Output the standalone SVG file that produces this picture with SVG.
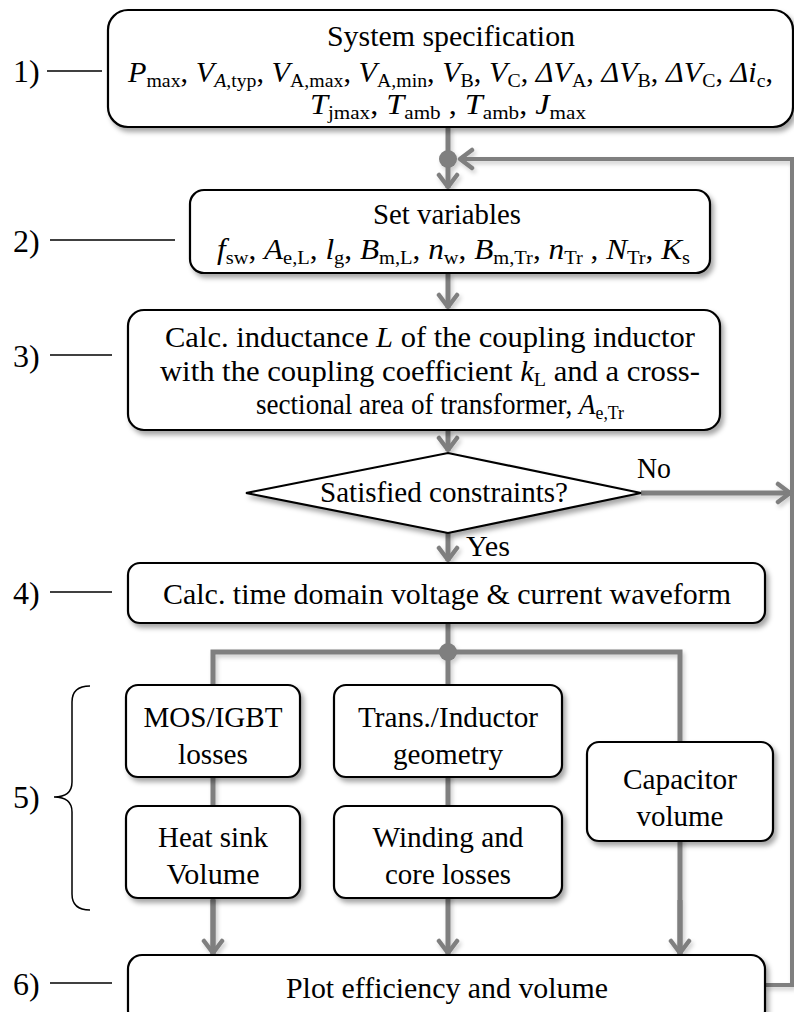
<svg xmlns="http://www.w3.org/2000/svg" width="794" height="1012" viewBox="0 0 794 1012" font-family="'Liberation Serif', 'DejaVu Serif', serif">
<style>
.t{font-family:"Liberation Serif","DejaVu Serif",serif;font-size:29px;fill:#000}
.m{text-anchor:middle}
.i{font-style:italic}
.s{font-size:19px;font-style:normal}
.box{fill:#fff;stroke:#000;stroke-width:2.2;filter:url(#sh)}
.c{stroke:#7f7f7f;stroke-width:5;fill:none}
.lb{stroke:#000;stroke-width:1.5;fill:none}
.lt{font-family:"Liberation Serif","DejaVu Serif",serif;font-size:32px;fill:#000}
</style>
<defs>
<filter id="sh" x="-10%" y="-20%" width="130%" height="150%">
<feDropShadow dx="3" dy="4" stdDeviation="2.5" flood-color="#000" flood-opacity="0.35"/>
</filter>
<filter id="sh2" filterUnits="userSpaceOnUse" x="0" y="0" width="794" height="1012">
<feDropShadow dx="2" dy="3" stdDeviation="2" flood-color="#000" flood-opacity="0.2"/>
</filter>
<marker id="ah" markerUnits="userSpaceOnUse" markerWidth="18" markerHeight="24" viewBox="0 0 18 24" refX="16" refY="12" orient="auto">
<path d="M3,3 L15,12 L3,21" fill="none" stroke="#7f7f7f" stroke-width="4.5" stroke-linecap="round" stroke-linejoin="round"/>
</marker>
</defs>
<rect width="794" height="1012" fill="#fff"/>

<g id="connectors" filter="url(#sh2)">
<path class="c" d="M448,127 L448,188" marker-end="url(#ah)"/>
<path class="c" d="M765,985 L792,985 L792,159 L459,159" marker-end="url(#ah)" style="stroke-width:4"/>
<path class="c" d="M448,273 L448,308" marker-end="url(#ah)"/>
<path class="c" d="M448,430 L448,451" marker-end="url(#ah)"/>
<path class="c" d="M641,493 L791,493" marker-end="url(#ah)"/>
<path class="c" d="M448,533 L448,561" marker-end="url(#ah)"/>
<path class="c" d="M448,623 L448,652"/>
<path class="c" d="M213,954 L213,652 L680,652 L680,954"/>
<path class="c" d="M213,900 L213,954" marker-end="url(#ah)"/>
<path class="c" d="M448,652 L448,954" marker-end="url(#ah)"/>
<path class="c" d="M680,900 L680,954" marker-end="url(#ah)"/>
<circle cx="448" cy="159" r="9" fill="#7f7f7f"/>
<circle cx="448" cy="652" r="9" fill="#7f7f7f"/>
</g>

<g id="labels">
<text class="lt" x="13" y="82">1)</text>
<line class="lb" x1="47" y1="71" x2="102" y2="71"/>
<text class="lt" x="13" y="252">2)</text>
<line class="lb" x1="50" y1="240" x2="175" y2="240"/>
<text class="lt" x="13" y="367">3)</text>
<line class="lb" x1="50" y1="355" x2="112" y2="355"/>
<text class="lt" x="13" y="604">4)</text>
<line class="lb" x1="50" y1="592" x2="112" y2="592"/>
<text class="lt" x="13" y="808">5)</text>
<path class="lb" d="M90,686 Q72,686 72,702 L72,782 Q72,797 54,797 Q72,797 72,812 L72,894 Q72,910 90,910"/>
<text class="lt" x="13" y="995">6)</text>
<line class="lb" x1="50" y1="983" x2="112" y2="983"/>
</g>

<g id="n1">
<rect class="box" x="108" y="10" width="685" height="117" rx="20"/>
<text class="t" x="327" y="46" textLength="248" lengthAdjust="spacingAndGlyphs">System specification</text>
<text class="t" x="128" y="82" textLength="645" lengthAdjust="spacingAndGlyphs"><tspan class="i">P</tspan><tspan class="s" dy="5">max</tspan><tspan dy="-5">, </tspan><tspan class="i">V</tspan><tspan class="s" dy="5"><tspan class="i">A</tspan>,typ</tspan><tspan dy="-5">, </tspan><tspan class="i">V</tspan><tspan class="s" dy="5">A,max</tspan><tspan dy="-5">, </tspan><tspan class="i">V</tspan><tspan class="s" dy="5">A,min</tspan><tspan dy="-5">, </tspan><tspan class="i">V</tspan><tspan class="s" dy="5">B</tspan><tspan dy="-5">, </tspan><tspan class="i">V</tspan><tspan class="s" dy="5">C</tspan><tspan dy="-5">, </tspan><tspan class="i">ΔV</tspan><tspan class="s" dy="5">A</tspan><tspan dy="-5">, </tspan><tspan class="i">ΔV</tspan><tspan class="s" dy="5">B</tspan><tspan dy="-5">, </tspan><tspan class="i">ΔV</tspan><tspan class="s" dy="5">C</tspan><tspan dy="-5">,  </tspan><tspan class="i">Δi</tspan><tspan class="s" dy="5">c</tspan><tspan dy="-5">,</tspan></text>
<text class="t" x="310" y="114" textLength="276" lengthAdjust="spacingAndGlyphs"><tspan class="i">T</tspan><tspan class="s" dy="5">jmax</tspan><tspan dy="-5">, </tspan><tspan class="i">T</tspan><tspan class="s" dy="5">amb</tspan><tspan dy="-5"> , </tspan><tspan class="i">T</tspan><tspan class="s" dy="5">amb</tspan><tspan dy="-5">, </tspan><tspan class="i">J</tspan><tspan class="s" dy="5">max</tspan></text>
</g>

<g id="n2">
<rect class="box" x="190" y="190" width="520" height="83" rx="14"/>
<text class="t" x="373" y="224" textLength="148" lengthAdjust="spacingAndGlyphs">Set variables</text>
<text class="t" x="217" y="259" textLength="473" lengthAdjust="spacingAndGlyphs"><tspan class="i">f</tspan><tspan class="s" dy="5">sw</tspan><tspan dy="-5">, </tspan><tspan class="i">A</tspan><tspan class="s" dy="5">e,L</tspan><tspan dy="-5">, </tspan><tspan class="i">l</tspan><tspan class="s" dy="5">g</tspan><tspan dy="-5">, </tspan><tspan class="i">B</tspan><tspan class="s" dy="5">m,L</tspan><tspan dy="-5">, </tspan><tspan class="i">n</tspan><tspan class="s" dy="5">w</tspan><tspan dy="-5">, </tspan><tspan class="i">B</tspan><tspan class="s" dy="5">m,Tr</tspan><tspan dy="-5">, </tspan><tspan class="i">n</tspan><tspan class="s" dy="5">Tr</tspan><tspan dy="-5"> , </tspan><tspan class="i">N</tspan><tspan class="s" dy="5">Tr</tspan><tspan dy="-5">, </tspan><tspan class="i">K</tspan><tspan class="s" dy="5">s</tspan></text>
</g>

<g id="n3">
<rect class="box" x="128" y="310" width="592" height="120" rx="16"/>
<text class="t" x="165" y="347" textLength="530" lengthAdjust="spacingAndGlyphs">Calc. inductance <tspan class="i">L</tspan> of the coupling inductor</text>
<text class="t" x="160" y="381" textLength="540" lengthAdjust="spacingAndGlyphs">with the coupling coefficient <tspan class="i">k</tspan><tspan class="s" dy="5">L</tspan><tspan dy="-5"> and a cross-</tspan></text>
<text class="t" x="256" y="414" textLength="368" lengthAdjust="spacingAndGlyphs">sectional area of transformer, <tspan class="i">A</tspan><tspan class="s" dy="5">e,Tr</tspan></text>
</g>

<g id="decision">
<polygon points="246,493 448,453 641,493 448,533" fill="#fff" stroke="#000" stroke-width="2.2" filter="url(#sh)"/>
<text class="t" x="320" y="502" textLength="248" lengthAdjust="spacingAndGlyphs">Satisfied constraints?</text>
<text class="t" x="637" y="478" textLength="34" lengthAdjust="spacingAndGlyphs">No</text>
<text class="t" x="466" y="556" textLength="44" lengthAdjust="spacingAndGlyphs">Yes</text>
</g>

<g id="n4">
<rect class="box" x="128" y="563" width="637" height="60" rx="12"/>
<text class="t" x="163" y="604" textLength="568" lengthAdjust="spacingAndGlyphs">Calc. time domain voltage &amp; current waveform</text>
</g>

<g id="n5a">
<rect class="box" x="126" y="685" width="174" height="92" rx="12"/>
<text class="t m" x="213" y="727" textLength="139" lengthAdjust="spacingAndGlyphs">MOS/IGBT</text>
<text class="t m" x="213" y="764" textLength="70" lengthAdjust="spacingAndGlyphs">losses</text>
</g>
<g id="n5b">
<rect class="box" x="126" y="806" width="174" height="92" rx="12"/>
<text class="t m" x="213" y="847" textLength="110" lengthAdjust="spacingAndGlyphs">Heat sink</text>
<text class="t m" x="213" y="884" textLength="93" lengthAdjust="spacingAndGlyphs">Volume</text>
</g>
<g id="n5c">
<rect class="box" x="334" y="685" width="228" height="92" rx="12"/>
<text class="t m" x="448" y="727" textLength="180" lengthAdjust="spacingAndGlyphs">Trans./Inductor</text>
<text class="t m" x="448" y="764" textLength="110" lengthAdjust="spacingAndGlyphs">geometry</text>
</g>
<g id="n5d">
<rect class="box" x="334" y="806" width="228" height="92" rx="12"/>
<text class="t m" x="448" y="847" textLength="151" lengthAdjust="spacingAndGlyphs">Winding and</text>
<text class="t m" x="448" y="884" textLength="126" lengthAdjust="spacingAndGlyphs">core losses</text>
</g>
<g id="n5e">
<rect class="box" x="587" y="742" width="186" height="99" rx="12"/>
<text class="t m" x="680" y="789" textLength="114" lengthAdjust="spacingAndGlyphs">Capacitor</text>
<text class="t m" x="680" y="826" textLength="87" lengthAdjust="spacingAndGlyphs">volume</text>
</g>

<g id="n6">
<rect class="box" x="128" y="955" width="637" height="70" rx="14"/>
<text class="t m" x="447" y="998" textLength="322" lengthAdjust="spacingAndGlyphs">Plot efficiency and volume</text>
</g>
</svg>
